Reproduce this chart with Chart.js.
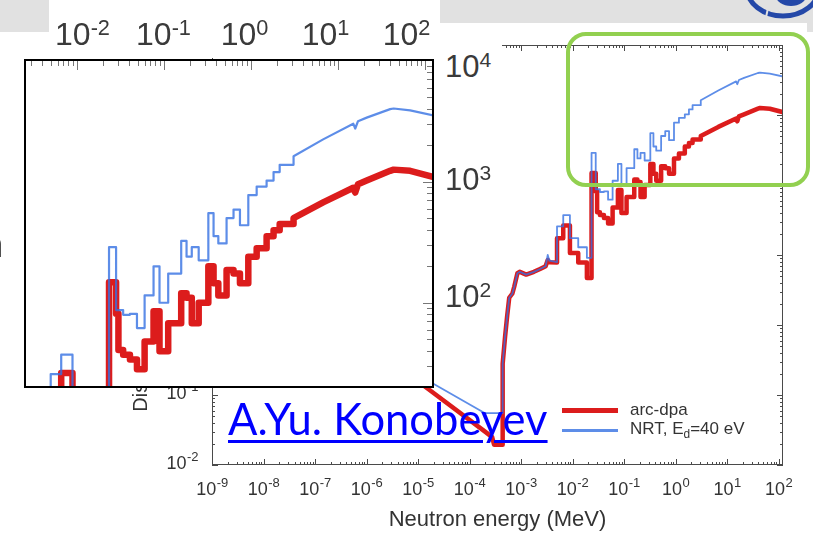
<!DOCTYPE html>
<html>
<head>
<meta charset="utf-8">
<title>arc-dpa vs NRT displacement cross-section</title>
<script src="https://cdn.jsdelivr.net/npm/chart.js@4.4.1/dist/chart.umd.min.js"></script>
<style>
  html, body { margin: 0; padding: 0; background: #fff; }
  #stage { position: relative; width: 813px; height: 537px; overflow: hidden; background: #fff;
           font-family: "Liberation Sans", Arial, sans-serif; }
  #mainChart { position: absolute; left: 0; top: 0; }
  .grey { position: absolute; background: #e1e1e1; }
  #greyL { left: 0; top: 0; width: 49px; height: 32px; }
  #greyR { left: 440px; top: 0; width: 373px; height: 23px; }
  #greyEdge { left: 807px; top: 0; width: 6px; height: 32px; }
  #logo { position: absolute; left: 741px; top: 0; }
  #topLabels { position: absolute; left: 49px; top: 0; width: 391px; height: 58px; background: #fff; }
  #topRow { position: absolute; left: -7px; top: 18px; width: 405px; display: flex; }
  .pw { flex: 1; text-align: center; font-size: 32px; line-height: 1; color: #3a3a3a; }
  .pw sup, .big sup { font-size: 0.68em; vertical-align: 0.48em; line-height: 0; }
  #inset { position: absolute; left: 24px; top: 59px; width: 406px; height: 325px;
           border: 2px solid #000; background: #fff; }
  #inset canvas { display: block; }
  .big { position: absolute; left: 436px; width: 66px; padding: 10px 0 4px 9px; box-sizing: border-box;
         font-size: 31px; line-height: 1; color: #3a3a3a; background: #fff; }
  #greenBox { position: absolute; left: 566px; top: 32px; width: 244px; height: 155px; box-sizing: border-box;
              border: 4.5px solid #92d050; border-radius: 20px; }
  #author { position: absolute; left: 228px; top: 397px; font: 43.5px Lato, sans-serif; line-height: 1;
            color: #0000ff; text-decoration: underline; text-decoration-thickness: 3px; text-underline-offset: 5px; }
  #legend { position: absolute; left: 562px; top: 400px; font-size: 17px; color: #333; }
  .lg { display: flex; align-items: center; height: 20px; white-space: nowrap; }
  .lg i { display: inline-block; width: 56px; margin-right: 12px; }
  .lg sub { font-size: 0.7em; }
  #cutN { position: absolute; left: -19px; top: 222px; font: 40px Lato, sans-serif; line-height: 1; color: #000; }
</style>
</head>
<body>
<div id="stage">
  <canvas id="mainChart" width="813" height="537"></canvas>
  <div class="grey" id="greyL"></div>
  <div class="grey" id="greyR"></div>
  <div class="grey" id="greyEdge"></div>
  <svg id="logo" width="72" height="26" viewBox="0 0 72 26">
    <ellipse cx="42" cy="-12" rx="36" ry="28" fill="none" stroke="#2448a8" stroke-width="5"/>
    <ellipse cx="50" cy="-4" rx="15" ry="10" fill="#2448a8"/>
    <line x1="27" y1="8" x2="24" y2="22" stroke="#e1e1e1" stroke-width="2"/>
  </svg>
  <div id="topLabels"><div id="topRow"></div></div>
  <div id="inset"><canvas id="zoomChart" width="406" height="325"></canvas></div>
  <div id="bigLabels"></div>
  <div id="greenBox"></div>
  <a id="author" href="#">A.Yu. Konobeyev</a>
  <div id="legend"></div>
  <span id="cutN">n</span>
</div>
<script>
// series names, axis text
const seriesNames = ['arc-dpa', 'NRT, E_d=40 eV'];
const xTitle = 'Neutron energy (MeV)';
const yTitle = 'Displacement cross-section (barns)';
const xExponents = [-9, -8, -7, -6, -5, -4, -3, -2, -1, 0, 1, 2];
const yExponents = [-2, -1, 0, 1, 2, 3, 4];
const insetExponents = [-2, -1, 0, 1, 2];     // labels typed over the zoomed box
const bigYExponents = [4, 3, 2];               // big labels typed on the slide

// thermal 1/v part and the first resonance rise (MeV, barns)
const lowE   = [1e-9, 1.7e-5, 2.0e-4, 2.75e-4, 3.0e-4, 4.3e-4, 4.4e-4, 4.9e-4, 5.4e-4, 5.9e-4, 6.8e-4,
                7.4e-4, 8.5e-4, 9.5e-4, 1.26e-3, 1.78e-3, 2.34e-3, 3.0e-3, 3.3e-3, 3.55e-3, 5.0e-3];
const arcLow = [25.1, 0.117, 0.030, 0.025, 0.0195, 0.0195, 0.28, 0.68, 1.38, 2.45, 2.82,
                3.55, 5.5, 5.75, 5.25, 5.75, 6.3, 6.9, 8.5, 7.9, 7.8];
const nrtLow = [27, 0.155, 0.055, 0.055, 0.055, 0.055, 0.28, 0.68, 1.38, 2.45, 2.82,
                3.55, 5.5, 5.75, 5.25, 5.75, 6.3, 6.9, 10, 8.3, 7.9];

// resolved resonance groups (edges in MeV, group values in barns)
const groupEdges = [5.0e-3, 6.6e-3, 8.9e-3, 1.29e-2, 1.9e-2, 2.34e-2, 2.82e-2, 3.0e-2, 3.4e-2, 4.07e-2,
                    4.9e-2, 6.0e-2, 7.6e-2, 8.9e-2, 0.112, 0.158, 0.182, 0.209, 0.251, 0.324,
                    0.372, 0.422, 0.525, 0.631, 0.748, 0.933, 1.164, 1.514, 1.82, 2.14, 3.09];
const arcGroup = [17.4, 26.3, 10.7, 7.8, 4.7, 148, 81, 40.7, 37.2, 33.9,
                  28.2, 47.9, 85, 39.8, 67.6, 120, 110, 67.6, 100, 200,
                  145, 115, 186, 174, 145, 240, 282, 355, 398, 447];
const nrtGroup = [25.7, 37.2, 17.4, 12.9, 9.1, 288, 87, 87, 79.4, 81,
                  61.7, 115, 200, 100, 174, 324, 240, 288, 224, 550,
                  355, 309, 501, 589, 437, 776, 912, 1023, 1202, 1380];

// fast neutron part
const highE   = [3.09, 6.76, 15.0, 15.8, 17.0, 21.4, 39.8, 43.7, 67.6, 123];
const arcHigh = [501, 676, 891, 813, 955, 1023, 1230, 1259, 1230, 1096];
const nrtHigh = [1622, 2239, 3020, 2754, 3162, 3388, 3981, 4030, 3890, 3548];

const arcColor = '#dc1c1c';
const nrtColor = 'rgba(52, 112, 226, 0.8)';
const textColor = '#333';
const fontFamily = '"Liberation Sans", Arial, sans-serif';

Chart.defaults.font.family = fontFamily;

const powHtml = p => `10<sup>${p}</sup>`;
const subHtml = s => s.replace(/_(\w)/, '<sub>$1</sub>');

function buildSeries(lowVals, groupVals, highVals) {
  const pts = lowE.map((e, i) => ({x: e, y: lowVals[i]}));
  groupVals.forEach((v, i) => {
    pts.push({x: groupEdges[i], y: v}, {x: groupEdges[i + 1], y: v});
  });
  highE.forEach((e, i) => pts.push({x: e, y: highVals[i]}));
  return pts;
}
const arcPts = buildSeries(arcLow, arcGroup, arcHigh);
const nrtPts = buildSeries(nrtLow, nrtGroup, nrtHigh);

function logMarks(scale) {
  const marks = [];
  const lo = Math.floor(Math.log10(scale.min)), hi = Math.ceil(Math.log10(scale.max));
  for (let d = lo; d <= hi; d++) {
    for (let k = 1; k < 10; k++) {
      const v = k * Math.pow(10, d);
      if (v >= scale.min * 0.999 && v <= scale.max * 1.001) marks.push({v, major: k === 1});
    }
  }
  return marks;
}

// inward tick marks on the frame, like the original plot
const frameTicks = {
  id: 'frameTicks',
  afterDraw(chart, args, opts) {
    const {ctx, chartArea: a} = chart;
    const xs = chart.scales.x, ys = chart.scales.y;
    const sides = opts.sides || [];
    ctx.save();
    ctx.strokeStyle = opts.color;
    ctx.lineWidth = 1;
    if (opts.box) ctx.strokeRect(a.left + 0.5, a.top + 0.5, a.width - 1, a.height - 1);
    ctx.beginPath();
    logMarks(xs).forEach(m => {
      const px = Math.round(xs.getPixelForValue(m.v)) + 0.5;
      const len = m.major ? opts.major : opts.minor;
      if (sides.includes('bottom')) { ctx.moveTo(px, a.bottom); ctx.lineTo(px, a.bottom - len); }
      if (sides.includes('top')) { ctx.moveTo(px, a.top); ctx.lineTo(px, a.top + len); }
    });
    logMarks(ys).forEach(m => {
      const py = Math.round(ys.getPixelForValue(m.v)) + 0.5;
      const len = m.major ? opts.major : opts.minor;
      if (sides.includes('left')) { ctx.moveTo(a.left, py); ctx.lineTo(a.left + len, py); }
      if (sides.includes('right')) { ctx.moveTo(a.right, py); ctx.lineTo(a.right - len, py); }
    });
    ctx.stroke();
    ctx.restore();
  }
};

// decade labels "10" with a raised exponent, placed from the scale ticks
const powerLabels = {
  id: 'powerLabels',
  afterDraw(chart, args, opts) {
    if (!opts.show) return;
    const {ctx, chartArea: a} = chart;
    const base = `${opts.size}px ${fontFamily}`, sup = `${opts.supSize}px ${fontFamily}`;
    ctx.save();
    ctx.fillStyle = opts.color;
    ctx.textAlign = 'left';
    ctx.textBaseline = 'alphabetic';
    const draw = (value, x, y, align) => {
      const exp = String(Math.round(Math.log10(value)));
      ctx.font = base;
      const wb = ctx.measureText('10').width;
      ctx.font = sup;
      const ws = ctx.measureText(exp).width;
      const left = align === 'center' ? x - (wb + ws) / 2 : x - wb - ws;
      ctx.font = base;
      ctx.fillText('10', left, y);
      ctx.font = sup;
      ctx.fillText(exp, left + wb + 0.5, y - opts.raise);
    };
    const xs = chart.scales.x, ys = chart.scales.y;
    xs.ticks.forEach(t => draw(t.value, xs.getPixelForValue(t.value), a.bottom + opts.xDrop, 'center'));
    ys.ticks.forEach(t => draw(t.value, a.left - opts.yGap, ys.getPixelForValue(t.value) + opts.yShift, 'right'));
    ctx.restore();
  }
};

function datasets(arcWidth, nrtWidth) {
  return [
    {label: seriesNames[0], data: arcPts, borderColor: arcColor, borderWidth: arcWidth, order: 2},
    {label: seriesNames[1], data: nrtPts, borderColor: nrtColor, borderWidth: nrtWidth, order: 1},
  ];
}

const lineElements = {point: {radius: 0}, line: {tension: 0, borderJoinStyle: 'round', borderCapStyle: 'butt'}};

const mainChart = new Chart(document.getElementById('mainChart'), {
  type: 'line',
  data: {datasets: datasets(4.5, 1.8)},
  options: {
    responsive: false,
    animation: false,
    devicePixelRatio: 1,
    layout: {padding: {left: 0, right: 30, top: 45, bottom: 0}},
    elements: lineElements,
    plugins: {
      legend: {display: false},
      tooltip: {enabled: false},
      frameTicks: {sides: ['top', 'bottom', 'left', 'right'], box: true, major: 6, minor: 3, color: '#4a4a4a'},
      powerLabels: {show: true, size: 18, supSize: 13, raise: 8, xDrop: 30, yGap: 14, yShift: 4, color: textColor},
    },
    scales: {
      x: {
        type: 'logarithmic',
        min: 1e-9,
        max: 122,
        grid: {display: false, drawTicks: false},
        border: {display: false},
        afterBuildTicks: s => { s.ticks = xExponents.map(p => ({value: Math.pow(10, p)})); },
        afterFit: s => { s.height = 72; },
        ticks: {display: false, autoSkip: false},
        title: {display: true, text: xTitle, color: textColor, font: {size: 22}, padding: {top: 0, bottom: 4}},
      },
      y: {
        type: 'logarithmic',
        min: 1e-2,
        max: 1e4,
        grid: {display: false, drawTicks: false},
        border: {display: false},
        afterBuildTicks: s => { s.ticks = yExponents.map(p => ({value: Math.pow(10, p)})); },
        afterFit: s => { s.width = 212; },
        ticks: {display: false, autoSkip: false},
        title: {display: true, text: yTitle, color: textColor, font: {size: 20}, padding: {top: 129, bottom: 0}},
      },
    },
  },
  plugins: [frameTicks, powerLabels],
});

// magnified view of the fast region
const zoomChart = new Chart(document.getElementById('zoomChart'), {
  type: 'line',
  data: {datasets: datasets(6.5, 2.2)},
  options: {
    responsive: false,
    animation: false,
    devicePixelRatio: 1,
    layout: {padding: 0},
    elements: lineElements,
    plugins: {
      legend: {display: false},
      tooltip: {enabled: false},
      frameTicks: {sides: ['top', 'right'], box: false, major: 9, minor: 5, color: '#777'},
    },
    scales: {
      x: {type: 'logarithmic', min: 2.6e-3, max: 120.5, display: false},
      y: {type: 'logarithmic', min: 20.5, max: 9950, display: false},
    },
  },
  plugins: [frameTicks],
});

// slide text around the chart
document.getElementById('topRow').innerHTML =
  insetExponents.map(p => `<div class="pw">${powHtml(p)}</div>`).join('');

const bigTops = [41, 154, 271];
document.getElementById('bigLabels').innerHTML =
  bigYExponents.map((p, i) => `<div class="big" style="top:${bigTops[i]}px">${powHtml(p)}</div>`).join('');

const legendStyles = [{color: arcColor, h: 5}, {color: nrtColor, h: 3}];
document.getElementById('legend').innerHTML = seriesNames.map((name, i) => `
  <div class="lg"><i style="height:${legendStyles[i].h}px;background:${legendStyles[i].color}"></i><span>${subHtml(name)}</span></div>
`).join('');
</script>
</body>
</html>
